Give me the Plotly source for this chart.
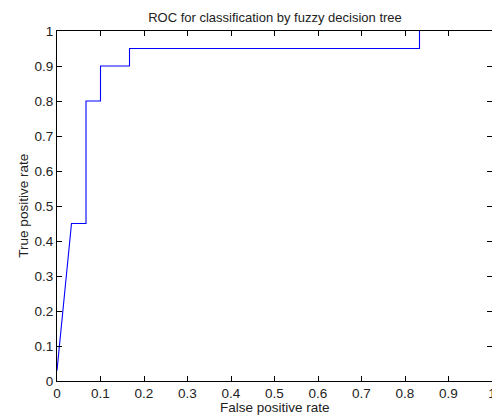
import plotly.graph_objects as go

fpr = [0.0, 0.0333, 0.0667, 0.0667, 0.1, 0.1, 0.1667, 0.1667, 0.8333, 0.8333]
tpr = [0.03, 0.45, 0.45, 0.8, 0.8, 0.9, 0.9, 0.95, 0.95, 1.0]
tick_vals = [0, 0.1, 0.2, 0.3, 0.4, 0.5, 0.6, 0.7, 0.8, 0.9, 1]
tick_text = ["0", "0.1", "0.2", "0.3", "0.4", "0.5", "0.6", "0.7", "0.8", "0.9", "1"]

FONT = "Liberation Sans, Arial"

fig = go.Figure()
fig.add_trace(go.Scatter(x=fpr, y=tpr, mode="lines",
                         line=dict(color="#0000ff", width=1.1), showlegend=False))

axis_common = dict(range=[0, 1], tickvals=tick_vals, ticktext=tick_text, automargin=False,
                   showgrid=False, zeroline=False, showline=True, linecolor="black",
                   linewidth=1, mirror="allticks", ticks="inside", ticklen=5,
                   tickcolor="black", tickfont=dict(family=FONT, size=13.5, color="#222"))

fig.update_layout(
    width=500, height=417,
    margin=dict(l=49, r=16, t=23, b=44),
    paper_bgcolor="white", plot_bgcolor="white",
    title=dict(text="ROC for classification by fuzzy decision tree", x=0.534, xanchor="center",
               y=0.978, yanchor="middle",
               font=dict(family=FONT, size=13, color="#222")),
    xaxis=dict(axis_common),
    yaxis=dict(axis_common),
    annotations=[
        dict(text="False positive rate", xref="paper", yref="paper", x=0.5, y=-0.077,
             xanchor="center", yanchor="middle", showarrow=False,
             font=dict(family=FONT, size=13.5, color="#222")),
        dict(text="True positive rate", xref="paper", yref="paper", x=-0.079, y=0.5,
             xanchor="center", yanchor="middle", textangle=-90, showarrow=False,
             font=dict(family=FONT, size=13.5, color="#222")),
    ],
)

fig.write_html("out.html")
